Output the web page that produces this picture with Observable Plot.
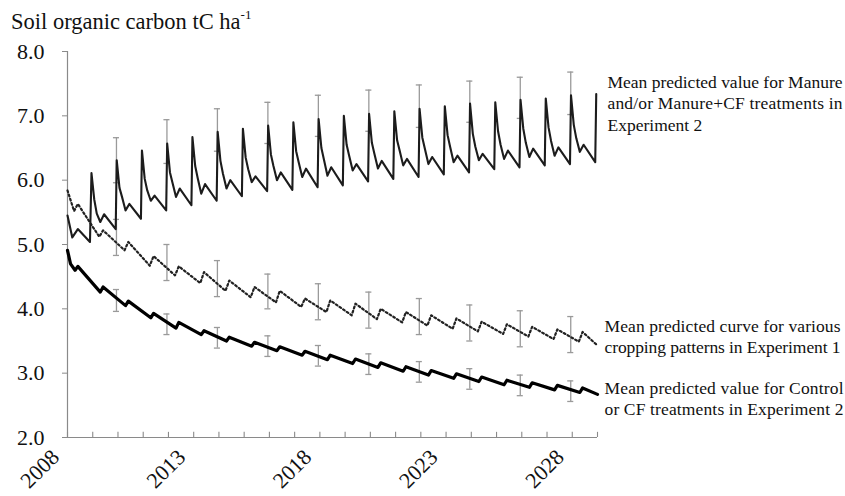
<!DOCTYPE html>
<html><head><meta charset="utf-8">
<script src="https://cdn.jsdelivr.net/npm/d3@7"></script>
<script src="https://cdn.jsdelivr.net/npm/@observablehq/plot@0.6"></script>
<style>
body{margin:0;background:#fff;font-family:"Liberation Serif","Times New Roman",serif;}
#wrap{position:relative;width:845px;height:496px;overflow:hidden;}
#title{position:absolute;left:11px;top:11px;font-size:22.5px;line-height:1;color:#111;white-space:nowrap;}
#title sup{font-size:13px;vertical-align:top;position:relative;top:-3px;}
#chart{position:absolute;left:0;top:36px;}
</style></head><body>
<div id="wrap"><div id="title">Soil organic carbon tC ha<sup>-1</sup></div><div id="chart"></div></div>
<script>
// ---- axis values ----
const yTicks = [2, 3, 4, 5, 6, 7, 8];
const tickYears = d3.range(2008, 2030);
const labelYears = [2008, 2013, 2018, 2023, 2028];

// ---- Manure / Manure+CF (Experiment 2) ----
const manureStartT = [2008.0, 2008.19, 2008.41, 2008.89];
const manureStartV = [5.45, 5.11, 5.24, 5.04];
const cycleYears = d3.range(2009, 2029);
const manurePhase = [-0.05, 0.06, 0.16, 0.30, 0.45, 0.91];
const manurePeak  = [6.11, 6.31, 6.46, 6.57, 6.67, 6.75, 6.80, 6.85, 6.90, 6.95, 7.00, 7.03, 7.07, 7.11, 7.15, 7.19, 7.21, 7.25, 7.27, 7.32];
const manureFall1 = [5.70, 5.88, 6.02, 6.12, 6.22, 6.30, 6.35, 6.40, 6.45, 6.50, 6.55, 6.58, 6.62, 6.66, 6.70, 6.72, 6.76, 6.80, 6.82, 6.86];
const manureFall2 = [5.48, 5.74, 5.84, 5.96, 6.03, 6.10, 6.17, 6.22, 6.28, 6.32, 6.38, 6.41, 6.46, 6.49, 6.52, 6.52, 6.55, 6.58, 6.61, 6.65];
const manureDip   = [5.35, 5.53, 5.68, 5.74, 5.79, 5.87, 5.97, 6.00, 6.05, 6.07, 6.15, 6.18, 6.23, 6.25, 6.28, 6.31, 6.33, 6.36, 6.38, 6.44];
const manureBump  = [5.47, 5.63, 5.76, 5.87, 5.94, 6.00, 6.06, 6.12, 6.18, 6.20, 6.25, 6.30, 6.33, 6.36, 6.38, 6.41, 6.46, 6.49, 6.51, 6.55];
const manureLow   = [5.24, 5.40, 5.53, 5.61, 5.68, 5.75, 5.83, 5.85, 5.89, 5.92, 5.98, 6.02, 6.05, 6.09, 6.12, 6.17, 6.20, 6.23, 6.25, 6.28];
const manureEndT = 2028.95, manureEndV = 7.34;

// ---- Various cropping patterns (Experiment 1), dotted ----
const dottedStartT = 2008.0, dottedStartV = 5.84;
const dottedYears = d3.range(2008, 2029);
const dottedPhase = [0.26, 0.41];
const dottedMin  = [5.52, 5.12, 4.91, 4.67, 4.52, 4.40, 4.28, 4.18, 4.10, 4.03, 3.95, 3.90, 3.84, 3.79, 3.74, 3.69, 3.65, 3.61, 3.57, 3.53, 3.49];
const dottedBump = [5.63, 5.22, 5.04, 4.82, 4.66, 4.57, 4.44, 4.34, 4.28, 4.16, 4.13, 4.08, 4.00, 3.95, 3.90, 3.85, 3.80, 3.76, 3.72, 3.68, 3.64];
const dottedEndT = 2029.0, dottedEndV = 3.43;

// ---- Control / CF (Experiment 2), bold ----
const boldStartT = [2008.0, 2008.12];
const boldStartV = [4.91, 4.70];
const boldYears = d3.range(2008, 2029);
const boldPhase = [0.30, 0.41];
const boldMin  = [4.60, 4.26, 4.05, 3.86, 3.70, 3.60, 3.50, 3.42, 3.35, 3.28, 3.21, 3.15, 3.09, 3.03, 2.97, 2.92, 2.87, 2.82, 2.78, 2.74, 2.70];
const boldBump = [4.66, 4.34, 4.12, 3.93, 3.79, 3.66, 3.56, 3.48, 3.41, 3.34, 3.28, 3.22, 3.16, 3.10, 3.04, 2.99, 2.94, 2.89, 2.85, 2.81, 2.77];
const boldEndT = 2029.0, boldEndV = 2.67;

// ---- error bars (every 2 years) ----
const ebTimes = [2009.94, 2011.94, 2013.94, 2015.94, 2017.94, 2019.94, 2021.94, 2023.94, 2025.94, 2027.94];
const manureEbMid = [6.31, 6.60, 6.78, 6.89, 7.00, 7.08, 7.15, 7.22, 7.28, 7.35];
const manureEbErr = [0.35, 0.34, 0.33, 0.32, 0.32, 0.32, 0.33, 0.32, 0.32, 0.33];
const dottedEbMid = [5.11, 4.72, 4.47, 4.27, 4.11, 3.98, 3.88, 3.78, 3.69, 3.60];
const dottedEbErr = [0.28, 0.28, 0.28, 0.27, 0.28, 0.28, 0.28, 0.28, 0.28, 0.28];
const boldEbMid = [4.13, 3.76, 3.55, 3.42, 3.27, 3.14, 3.02, 2.91, 2.81, 2.72];
const boldEbErr = [0.17, 0.16, 0.16, 0.16, 0.16, 0.16, 0.16, 0.16, 0.16, 0.16];

// ---- labels ----
const annManure = ["Mean predicted value for Manure", "and/or Manure+CF treatments in", "Experiment 2"];
const annDotted = ["Mean predicted curve for various", "cropping patterns in Experiment 1"];
const annBold = ["Mean predicted value for Control", "or CF treatments in Experiment 2"];

// ---- build tables ----
const manurePts = manureStartT.map((t, i) => ({t, v: manureStartV[i]}));
const manureCols = [manurePeak, manureFall1, manureFall2, manureDip, manureBump, manureLow];
cycleYears.forEach((Y, i) => manurePhase.forEach((p, j) => manurePts.push({t: Y + p, v: manureCols[j][i]})));
manurePts.push({t: manureEndT, v: manureEndV});

const dottedPts = [{t: dottedStartT, v: dottedStartV}];
dottedYears.forEach((Y, i) => { dottedPts.push({t: Y + dottedPhase[0], v: dottedMin[i]}); dottedPts.push({t: Y + dottedPhase[1], v: dottedBump[i]}); });
dottedPts.push({t: dottedEndT, v: dottedEndV});

const boldPts = boldStartT.map((t, i) => ({t, v: boldStartV[i]}));
boldYears.forEach((Y, i) => { boldPts.push({t: Y + boldPhase[0], v: boldMin[i]}); boldPts.push({t: Y + boldPhase[1], v: boldBump[i]}); });
boldPts.push({t: boldEndT, v: boldEndV});

const ebs = [];
ebTimes.forEach((t, i) => {
  ebs.push({t, lo: manureEbMid[i] - manureEbErr[i], hi: manureEbMid[i] + manureEbErr[i]});
  ebs.push({t, lo: dottedEbMid[i] - dottedEbErr[i], hi: dottedEbMid[i] + dottedEbErr[i]});
  ebs.push({t, lo: boldEbMid[i] - boldEbErr[i], hi: boldEbMid[i] + boldEbErr[i]});
});
const caps = ebs.flatMap(d => [{t: d.t, v: d.lo}, {t: d.t, v: d.hi}]);

const axisGray = "#8a8a8a";
const ebGray = "#9a9a9a";
const capHalf = 0.12;

const plot = Plot.plot({
  width: 845, height: 460,
  marginLeft: 67, marginRight: 248, marginTop: 15, marginBottom: 59,
  x: {domain: [2008, 2029], axis: null},
  y: {domain: [2, 8]},
  style: {fontFamily: '"Liberation Serif", "Times New Roman", serif', background: "white", overflow: "visible", color: "#111"},
  marks: [
    Plot.ruleY([2], {stroke: axisGray, strokeWidth: 1.2}),
    Plot.ruleX([2008], {stroke: axisGray, strokeWidth: 1.2}),
    Plot.ruleX(tickYears, {x: d => d, y1: 2, y2: 2.08, stroke: axisGray, strokeWidth: 1.1}),
    Plot.axisY({ticks: yTicks, tickFormat: d3.format(".1f"), tickSize: 5, tickPadding: 18, fontSize: 22, stroke: axisGray, fill: "#111", label: null}),
    Plot.text(labelYears, {x: d => d, y: () => 2, text: d => String(d), rotate: -45, textAnchor: "end", lineAnchor: "middle", dy: 16, dx: -12, fontSize: 22, fill: "#111"}),
    Plot.ruleX(ebs, {x: "t", y1: "lo", y2: "hi", stroke: ebGray, strokeWidth: 1.3}),
    Plot.ruleY(caps, {y: "v", x1: d => d.t - capHalf, x2: d => d.t + capHalf, stroke: ebGray, strokeWidth: 1.3}),
    Plot.line(dottedPts, {x: "t", y: "v", stroke: "#222", strokeWidth: 2.2, strokeDasharray: "1.8,2.6"}),
    Plot.line(manurePts, {x: "t", y: "v", stroke: "#1c1c1c", strokeWidth: 2.1}),
    Plot.line(boldPts, {x: "t", y: "v", stroke: "#000", strokeWidth: 3.2, strokeLinejoin: "round"}),
    Plot.text([annManure.join("\n")], {frameAnchor: "top-right", textAnchor: "start", lineAnchor: "middle", dx: 10, dy: 51, fontSize: 17.5, lineHeight: 1.23, fill: "#111", className: "ann ann1"}),
    Plot.text([annDotted.join("\n")], {frameAnchor: "top-right", textAnchor: "start", lineAnchor: "middle", dx: 7, dy: 284, fontSize: 17.5, lineHeight: 1.23, fill: "#111", className: "ann ann2"}),
    Plot.text([annBold.join("\n")], {frameAnchor: "top-right", textAnchor: "start", lineAnchor: "middle", dx: 7, dy: 346, fontSize: 17.5, lineHeight: 1.23, fill: "#111", className: "ann ann3"})
  ]
});
document.getElementById("chart").appendChild(plot);

// justify annotation lines like the original
const just = [["ann1", [235, 235, 0]], ["ann2", [236, 236]], ["ann3", [239, 239]]];
just.forEach(([cls, widths]) => {
  d3.select(plot).selectAll(`g.${cls} text tspan`).each(function(_, i) {
    if (widths[i]) { this.setAttribute("textLength", widths[i]); this.setAttribute("lengthAdjust", "spacing"); }
  });
});
</script></body></html>
